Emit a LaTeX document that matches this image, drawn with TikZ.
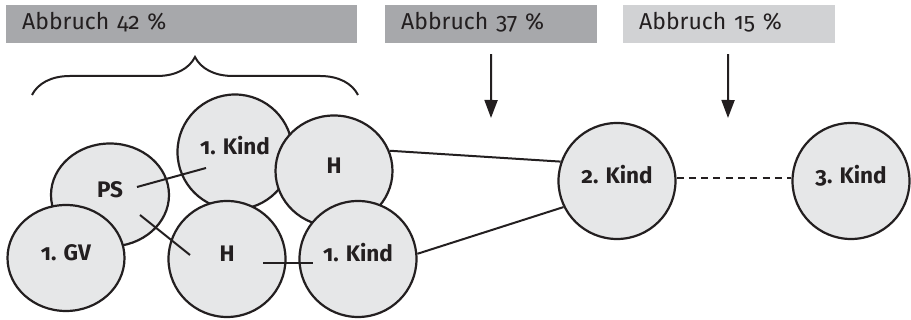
\documentclass[tikz,border=0pt]{standalone}
\usepackage{fontspec}
\setmainfont{Fira Sans}[Numbers=OldStyle]
\usepackage{tikz}
\usetikzlibrary{shapes.geometric, arrows.meta, positioning, calc, decorations.pathreplacing}
\definecolor{inkdark}{RGB}{35, 31, 32}
\definecolor{bardark}{RGB}{167, 168, 171}
\definecolor{barlight}{RGB}{209, 210, 212}
\definecolor{circlefill}{RGB}{230, 231, 232}

\begin{document}
\begin{tikzpicture}[x=1pt, y=1pt,
    lifecircle/.style={ellipse, draw=inkdark, fill=circlefill, line width=2.2pt,
        minimum width=117pt, minimum height=116pt, inner sep=0pt,
        text=inkdark, font=\fontsize{22.5}{24}\selectfont\bfseries,
        text height=16pt, text depth=10pt},
    barbox/.style={rectangle, anchor=west, minimum height=38pt, inner xsep=16pt,
        inner ysep=0pt, align=left, text=inkdark,
        font=\fontsize{23}{26}\selectfont, text height=16pt, text depth=4pt},
    link/.style={draw=inkdark, line width=2pt},
    cutarrow/.style={draw=inkdark, line width=2pt, -{Triangle[length=18pt, width=13pt]}}]
    \useasboundingbox (0,0) rectangle (911,320);

    % cut-off bars
    \node[barbox, fill=bardark, text width=319pt] (barA) at (6,296) {Abbruch 42 \%};
    \node[barbox, fill=bardark, text width=180pt] (barB) at (385,296) {Abbruch 37 \%};
    \node[barbox, fill=barlight, text width=180pt] (barC) at (623,296) {Abbruch 15 \%};

    % first phase
    \node[lifecircle, minimum width=118pt, minimum height=103pt] (ps) at (110,125) {PS};
    \node[lifecircle, minimum width=117pt, minimum height=106pt] (gv) at (66,62) {1. GV};
    \node[lifecircle, minimum width=115pt, minimum height=115pt] (kindA) at (235,168) {1. Kind};
    \node[lifecircle, minimum height=111pt] (hA) at (334,149) {H};
    \node[lifecircle] (hB) at (227,61) {H};
    \node[lifecircle] (kindB) at (358,61) {1. Kind};

    % later children
    \node[lifecircle] (kindTwo) at (617,139) {2. Kind};
    \node[lifecircle] (kindThree) at (851,139) {3. Kind};

    \draw[link] ($(ps)+(27,8)$) -- ($(kindA)+(-29,-16)$);
    \draw[link] ($(ps)+(30,-20)$) -- ($(hB)+(-37,4)$);
    \draw[link] ($(hB)+(36,-4)$) -- ($(kindB)+(-45,-4)$);
    \draw[link] (hA.20) -- (kindTwo.161);
    \draw[link] (kindB.5) -- (kindTwo.206);
    \draw[link, dash pattern=on 7pt off 5.3pt] (kindTwo.3) -- (kindThree.177);

    % brace and arrows
    \draw[link, decorate, decoration={brace, amplitude=38pt}] (32,225) -- (358,225);
    \coordinate (cutB) at (491,202);
    \coordinate (cutC) at (728,202);
    \draw[cutarrow] ([yshift=-11pt]barB.south) -- (cutB);
    \draw[cutarrow] ([yshift=-11pt, xshift=-1pt]barC.south) -- (cutC);
\end{tikzpicture}
\end{document}
